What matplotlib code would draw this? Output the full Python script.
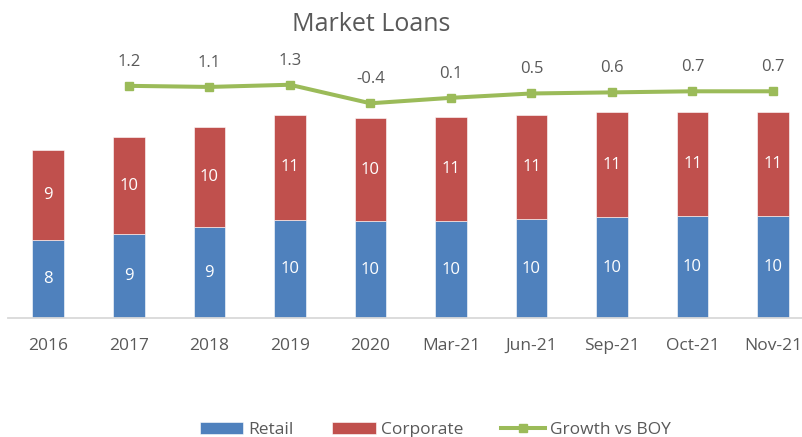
import matplotlib
matplotlib.use("Agg")
import matplotlib.pyplot as plt
import numpy as np

plt.rcParams['font.family'] = ['Open Sans', 'DejaVu Sans']

periods = ["2016", "2017", "2018", "2019", "2020", "Mar-21", "Jun-21", "Sep-21", "Oct-21", "Nov-21"]
retail = [7.95, 8.56, 9.24, 9.98, 9.85, 9.85, 10.08, 10.25, 10.36, 10.36]
corporate = [9.14, 9.82, 10.18, 10.66, 10.43, 10.56, 10.59, 10.66, 10.56, 10.56]
growth_periods = periods[1:]
growth = [1.2, 1.1, 1.3, -0.4, 0.1, 0.5, 0.6, 0.7, 0.7]

blue = "#4F81BD"
red = "#C0504D"
green = "#9BBB59"
grey_txt = "#595959"

fig = plt.figure(figsize=(8.02, 4.37), dpi=100)
ax = fig.add_axes([0.01, 0.2716, 0.99, 0.5911])
x = np.arange(len(periods))
w = 0.393

b1 = ax.bar(x, retail, w, color=blue, edgecolor="white", linewidth=0.4, label="Retail")
b2 = ax.bar(x, corporate, w, bottom=retail, color=red, edgecolor="white", linewidth=0.4, label="Corporate")

for i in range(len(periods)):
    ax.text(x[i], retail[i] / 2, f"{retail[i]:.0f}", ha="center", va="center",
            color="white", fontsize=12)
    ax.text(x[i], retail[i] + corporate[i] / 2, f"{corporate[i]:.0f}", ha="center", va="center",
            color="white", fontsize=12)

ax.set_xlim(-0.5, 9.36)
ax.set_ylim(0, 26.2)
ax.set_xticks(x)
ax.set_xticklabels(periods, fontsize=12.5, color=grey_txt)
ax.tick_params(axis="x", length=0, pad=14)
ax.set_yticks([])
for s in ["top", "right", "left"]:
    ax.spines[s].set_visible(False)
ax.spines["bottom"].set_color("#D9D9D9")
ax.spines["bottom"].set_linewidth(1.3)

ax2 = ax.twinx()
gx = x[1:]
line, = ax2.plot(gx, growth, color=green, linewidth=2.9, marker="s", markersize=6,
                 label="Growth vs BOY")
for xi, g in zip(gx, growth):
    ax2.annotate(f"{g:.1f}", (xi, g), xytext=(0, 17.3), textcoords="offset points",
                 ha="center", va="center", fontsize=12, color=grey_txt)
ax2.set_ylim(-20.12, 3.57)
ax2.set_yticks([])
for s in ["top", "right", "left", "bottom"]:
    ax2.spines[s].set_visible(False)

fig.text(0.463, 0.945, "Market Loans", ha="center", va="center", fontsize=18, color=grey_txt)

fig.legend(handles=[b1, b2, line], loc="center", bbox_to_anchor=(0.543, 0.016), ncol=3,
           frameon=False, fontsize=12.5, handlelength=2.5, handleheight=0.66,
           handletextpad=0.3, columnspacing=2.2, labelcolor=grey_txt)

plt.savefig("out.png", dpi=100)
